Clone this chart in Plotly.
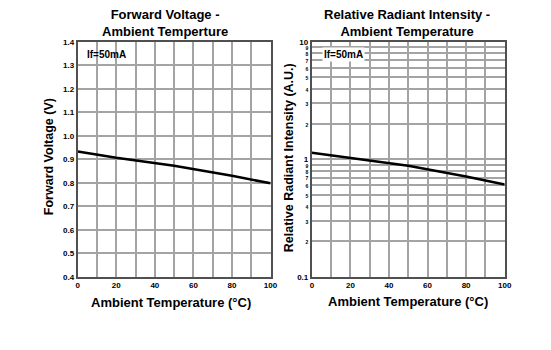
import plotly.graph_objects as go

temp_v = [0, 20, 50, 80, 100]
vf = [0.934, 0.907, 0.873, 0.830, 0.798]
temp_i = [0, 20, 50, 80, 100]
intensity = [1.14, 1.035, 0.883, 0.716, 0.611]

x_ticks = [0, 20, 40, 60, 80, 100]
vf_ticks = [0.4, 0.5, 0.6, 0.7, 0.8, 0.9, 1.0, 1.1, 1.2, 1.3, 1.4]
log_ticks = [0.1, 0.2, 0.3, 0.4, 0.5, 0.6, 0.7, 0.8, 0.9, 1, 2, 3, 4, 5, 6, 7, 8, 9, 10]

FONT = "Liberation Sans"
small = '<span style="font-size:5px">%s</span>'
log_text = []
for v in log_ticks:
    if v in (0.1, 1, 10):
        log_text.append("<b>%g</b>" % v)
    else:
        d = int(round(v * 10)) if v < 1 else int(v)
        log_text.append(small % ("<b>%d</b>" % d))

fig = go.Figure()
fig.add_trace(go.Scatter(x=temp_v, y=vf, mode="lines", line=dict(color="black", width=2.5), xaxis="x", yaxis="y", showlegend=False))
fig.add_trace(go.Scatter(x=temp_i, y=intensity, mode="lines", line=dict(color="black", width=2.5), xaxis="x2", yaxis="y2", showlegend=False))

W, H = 551, 350
ydom = [1 - 280 / H, 1 - 39 / H]
grid = dict(showgrid=True, gridcolor="#a4a4a4", gridwidth=2, showline=True, linecolor="#505050", linewidth=2, mirror=True, ticks="", zeroline=False)
tickfont = dict(family=FONT, size=8, color="black")

fig.update_layout(
    width=W, height=H, margin=dict(l=0, r=0, t=0, b=0),
    paper_bgcolor="white", plot_bgcolor="white",
    xaxis=dict(domain=[77 / W, 273 / W], range=[0, 100], tickvals=x_ticks, ticktext=["<b>%d</b>" % t for t in x_ticks], tickfont=tickfont, **grid),
    yaxis=dict(domain=ydom, range=[0.4, 1.4], tickvals=vf_ticks, ticktext=["<b>%.1f</b>" % t for t in vf_ticks], tickfont=tickfont, anchor="x", **grid),
    xaxis2=dict(domain=[315 / W, 511 / W], range=[0, 100], tickvals=x_ticks, ticktext=["<b>%d</b>" % t for t in x_ticks], tickfont=tickfont, anchor="y2", **grid),
    yaxis2=dict(domain=ydom, type="log", range=[-1, 1], tickvals=log_ticks, ticktext=log_text, tickfont=tickfont, anchor="x2", **grid),
)
for ax in ("xaxis", "xaxis2"):
    fig.layout[ax].minor = dict(dtick=10, tick0=0, showgrid=True, gridcolor="#a4a4a4", gridwidth=2, ticks="")

def ann(text, x, y, size, **kw):
    fig.add_annotation(text=text, x=x / W, y=1 - y / H, xref="paper", yref="paper", showarrow=False,
                       xanchor="center", yanchor="middle",
                       font=dict(family=FONT, size=size, color="black"), **kw)

ann("<b>Forward Voltage -<br>Ambient Temperture</b>", 166, 20, 13)
ann("<b>Relative Radiant Intensity -<br>Ambient Temperature</b>", 412, 20, 13)
ann("<b>Ambient Temperature (°C)</b>", 171.5, 306, 13)
ann("<b>Ambient Temperature (°C)</b>", 413, 305, 13)
ann("<b>Forward Voltage (V)</b>", 48, 157, 12.5, textangle=-90)
ann("<b>Relative Radiant Intensity (A.U.)</b>", 292, 158, 12.5, textangle=-90)
ann("<b>If=50mA</b>", 106.5, 52, 10)
ann("<b>If=50mA</b>", 347.5, 52, 10, bgcolor="white")

fig.write_html("out.html")
